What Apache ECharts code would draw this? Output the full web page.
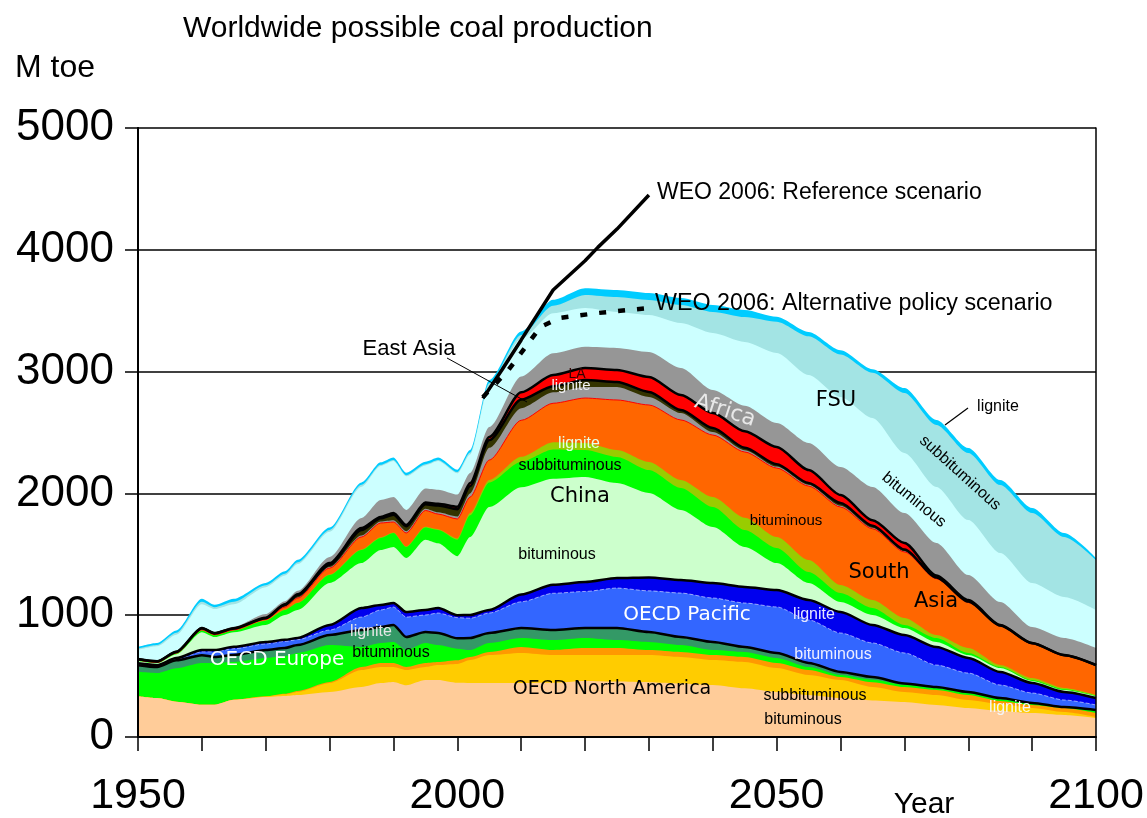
<!DOCTYPE html>
<html>
<head>
<meta charset="utf-8">
<script src="https://cdn.jsdelivr.net/npm/echarts@6/dist/echarts.min.js"></script>
<style>
html,body{margin:0;padding:0;background:#fff;}
#c{width:1147px;height:818px;}
</style>
</head>
<body>
<div id="c"></div>
<script>
// ---- data (cumulative production, M toe) ----
const years = [1950,1953,1956,1960,1962,1965,1970,1973,1975,1980,1985,1988,1990,1992,1995,1997,2000,2002,2005,2010,2015,2020,2025,2030,2035,2040,2045,2050,2055,2060,2065,2070,2075,2080,2085,2090,2095,2100];

const cumNA_bit  = [335,320,290,265,265,305,328,337,345,370,411,443,452,425,468,468,445,443,443,443,445,460,455,450,440,427,400,370,345,320,300,287,263,238,214,197,181,156];
const cumNA_sub  = [335,320,290,265,265,306,332,350,370,443,550,575,575,550,575,591,600,632,673,690,673,673,673,673,657,632,616,566,509,468,411,370,345,304,271,238,205,164];
const cumNA_lig  = [335,320,290,265,265,306,334,355,378,452,575,608,608,575,608,616,630,657,698,739,714,730,731,714,698,673,657,608,550,493,450,410,386,345,296,263,238,197];
const cumEU_bit  = [535,525,565,608,608,616,649,665,690,755,739,772,780,714,772,755,725,714,772,813,796,813,796,780,755,714,698,649,575,509,470,428,400,360,310,272,242,215];
const cumEU_lig  = [590,575,630,672,657,673,714,731,755,837,878,903,920,821,862,854,810,813,854,895,878,895,895,862,821,780,739,690,608,534,493,440,411,370,320,280,246,222];
const cumPAC_bit = [600,585,640,700,700,725,765,785,800,878,985,1043,1067,985,1002,1018,980,975,1018,1110,1180,1195,1223,1200,1182,1141,1100,1068,961,854,772,690,591,525,427,361,304,263];
const cumPAC_lig = [605,590,648,715,714,740,780,798,813,920,1059,1084,1100,1026,1043,1059,1000,1002,1043,1170,1250,1272,1305,1310,1289,1264,1232,1207,1125,1026,920,837,739,649,534,443,370,320];
const cumCN_bit  = [625,605,680,860,820,860,920,1002,1043,1264,1428,1535,1560,1470,1620,1590,1485,1642,1888,2050,2120,2135,2085,2003,1864,1724,1560,1428,1264,1108,1002,895,780,673,566,460,385,333];
const cumCN_sub  = [628,608,685,875,835,875,955,1043,1100,1330,1535,1634,1675,1560,1720,1700,1620,1820,2090,2260,2360,2356,2299,2192,2044,1888,1700,1552,1355,1182,1059,920,813,690,575,468,392,338];
const cumCN_lig  = [628,608,685,875,835,875,958,1046,1103,1335,1540,1640,1680,1565,1726,1706,1630,1839,2110,2300,2420,2414,2356,2258,2110,1970,1800,1642,1453,1248,1125,977,837,731,591,484,402,345];
const cumSA_bit  = [632,612,690,882,840,880,965,1067,1141,1387,1642,1757,1765,1675,1860,1830,1790,1970,2274,2600,2740,2783,2767,2726,2603,2479,2340,2208,2060,1888,1710,1519,1300,1105,910,765,668,586];
const cumSA_lig  = [632,612,690,882,840,880,965,1070,1145,1395,1655,1770,1780,1690,1875,1845,1810,2000,2374,2700,2830,2874,2874,2792,2660,2504,2355,2220,2070,1898,1718,1525,1305,1108,912,767,670,588];
const cumEA      = [638,620,698,892,850,890,975,1085,1165,1415,1700,1795,1825,1730,1910,1900,1870,2060,2438,2770,2880,2931,2915,2833,2685,2537,2375,2240,2085,1921,1735,1540,1310,1112,915,770,672,590];
const cumLA      = [640,622,700,895,853,893,980,1090,1172,1428,1715,1806,1839,1741,1925,1915,1890,2085,2463,2830,2972,3030,3013,2956,2808,2660,2510,2381,2192,1987,1780,1593,1325,1124,920,772,673,591];
const cumAF      = [648,628,710,905,862,905,1010,1115,1200,1478,1798,1946,1970,1864,2040,2030,1990,2167,2545,2960,3150,3203,3194,3161,3030,2849,2720,2578,2414,2217,2053,1839,1593,1330,1108,903,813,731];
const cumFSU_bit = [715,745,840,1090,1050,1090,1230,1325,1420,1685,2055,2225,2265,2140,2230,2265,2165,2320,2880,3270,3480,3522,3490,3465,3399,3317,3243,3153,2972,2791,2619,2332,2053,1781,1510,1264,1150,1043];
const cumFSU_sub = [725,755,855,1110,1065,1110,1245,1340,1435,1700,2070,2235,2275,2150,2240,2275,2175,2335,2905,3300,3540,3629,3612,3588,3547,3490,3448,3410,3290,3140,2990,2824,2562,2332,2069,1839,1642,1453];
const cumFSU_lig = [740,772,875,1135,1085,1135,1265,1360,1455,1720,2090,2255,2295,2170,2260,2295,2195,2356,2931,3330,3590,3685,3670,3645,3604,3547,3506,3450,3325,3175,3020,2865,2603,2373,2110,1880,1675,1470];

const weoRefYears = [2004,2007,2010,2015,2020,2022,2025,2030];
const weoRefVals  = [2780,3015,3260,3670,3910,4020,4170,4450];
const weoAltYears = [2004,2008,2013,2016,2022,2030];
const weoAltVals  = [2790,3013,3366,3440,3481,3522];

const yTicks = [0,1000,2000,3000,4000,5000];
const xLabelYears = [1950,2000,2050,2100];

// ---- build ----
function pairs(xs, vs){ return xs.map((x,i)=>[x, vs[i]]); }

// layers from top to bottom (each filled down to zero, upper painted first)
const layers = [
  [cumFSU_lig,'#00CCFF'],
  [cumFSU_sub,'#A3E4E4'],
  [cumFSU_bit,'#CCFFFF'],
  [cumAF,'#969696'],
  [cumLA,'#FF0000'],
  [cumEA,'#333300'],
  [cumSA_lig,'#999999'],
  [cumSA_bit,'#FF6600'],
  [cumCN_lig,'#99CC00'],
  [cumCN_sub,'#00FF00'],
  [cumCN_bit,'#CCFFCC'],
  [cumPAC_lig,'#0000EE'],
  [cumPAC_bit,'#3366FF'],
  [cumEU_lig,'#339966'],
  [cumEU_bit,'#00FF00'],
  [cumNA_lig,'#FF9900'],
  [cumNA_sub,'#FFCC00'],
  [cumNA_bit,'#FFCC99']
];
const SM = 0.25;
const series = [];
layers.forEach(([arr,col])=>{
  series.push({type:'line', data:pairs(years,arr), symbol:'none', smooth:SM, smoothMonotone:'x',
    lineStyle:{width:0, opacity:0}, areaStyle:{color:col, opacity:1, origin:'start'},
    silent:true, emphasis:{disabled:true}, z:2});
});
// boundary lines
const edges = [
  [cumSA_bit,'#FF0000',1,'solid'],
  [cumPAC_bit,'rgba(255,255,255,0.55)',1,'dashed'],
  [cumEU_lig,'#000',2.5,'solid'],
  [cumPAC_lig,'#000',2.5,'solid'],
  [cumEA,'#000',2.5,'solid'],
  [cumLA,'#000',2.5,'solid']
];
edges.forEach(([arr,col,w,t])=>{
  series.push({type:'line', data:pairs(years,arr), symbol:'none', smooth:SM, smoothMonotone:'x',
    lineStyle:{color:col, width:w, type:t}, silent:true, emphasis:{disabled:true}, z:3});
});
series.push({type:'line', data:pairs(weoRefYears,weoRefVals), symbol:'none',
  lineStyle:{color:'#000', width:3.5}, silent:true, z:4});
series.push({type:'line', data:pairs(weoAltYears,weoAltVals), symbol:'none',
  lineStyle:{color:'#000', width:4.5, type:[7,12], cap:'butt'}, silent:true, z:4});

const FONT = '"Liberation Sans", Arial, sans-serif';
const RFONT = '"DejaVu Sans", Tahoma, sans-serif';
function txt(text,x,y,size,fam,fill,align,rot){
  return {type:'text', x:x, y:y, rotation:(rot||0)*Math.PI/180, z:100, silent:true,
    style:{text:text, fill:fill||'#000', font:size+'px '+fam, align:align||'center', verticalAlign:'middle'}};
}
const graphics = [
  txt('Worldwide possible coal production',183,29,30,FONT,'#000','left'),
  txt('M toe',15,68,32,FONT,'#000','left'),
  txt('Year',924,805,30,FONT,'#000','center'),
  txt('WEO 2006: Reference scenario',657,193,23,FONT,'#000','left'),
  txt('WEO 2006: Alternative policy scenario',655,304,23.3,FONT,'#000','left'),
  txt('East Asia',409,349,22,FONT,'#000','center'),
  {type:'line', z:100, silent:true, shape:{x1:447,y1:358,x2:527,y2:402}, style:{stroke:'#000', lineWidth:1}},
  {type:'line', z:100, silent:true, shape:{x1:945,y1:425,x2:968,y2:408}, style:{stroke:'#000', lineWidth:1.2}},
  txt('LA',577,374,14,FONT,'#330000','center'),
  txt('lignite',571,386,15,FONT,'#F0F0F0','center'),
  txt('Africa',725,411,22,RFONT,'#E8E8E8','center',-18),
  txt('FSU',836,401,21,RFONT,'#000','center'),
  txt('lignite',998,407,16,FONT,'#000','center'),
  txt('subbituminous',960,473,16,FONT,'#000','center',-42),
  txt('bituminous',914,500,16,FONT,'#000','center',-39),
  txt('bituminous',786,521,15,FONT,'#000','center'),
  txt('South',879,573,21,RFONT,'#000','center'),
  txt('Asia',936,602,21,RFONT,'#000','center'),
  txt('lignite',814,615,16,FONT,'#E6E6FF','center'),
  txt('bituminous',833,655,16,FONT,'#EEEEFF','center'),
  txt('subbituminous',815,696,16,FONT,'#000','center'),
  txt('bituminous',803,720,16,FONT,'#000','center'),
  txt('lignite',1010,708,16,FONT,'#F5F5F5','center'),
  txt('OECD North America',612,689,19,RFONT,'#000','center'),
  txt('OECD Pacific',687,615,20,RFONT,'#FFFFFF','center'),
  txt('OECD Europe',277,660,20,RFONT,'#FFFFFF','center'),
  txt('lignite',371,632,16,FONT,'#E6E6E6','center'),
  txt('bituminous',391,653,16,FONT,'#000','center'),
  txt('China',580,497,21,RFONT,'#000','center'),
  txt('subbituminous',570,466,16,FONT,'#000','center'),
  txt('lignite',579,444,16,FONT,'#E6FFE6','center'),
  txt('bituminous',557,555,16,FONT,'#000','center')
];

const chart = echarts.init(document.getElementById('c'), null, {renderer:'canvas'});
chart.setOption({
  animation:false,
  backgroundColor:'#fff',
  grid:{left:138, right:51, top:128, bottom:81, containLabel:false},
  xAxis:[{type:'value', min:1950, max:2100, interval:10, z:10,
    axisLine:{show:true, lineStyle:{color:'#000', width:2}},
    axisTick:{show:true, length:14, lineStyle:{color:'#000', width:1.5}},
    axisLabel:{show:true, margin:38, fontSize:43, color:'#000', fontFamily:FONT,
      formatter:(v)=> xLabelYears.indexOf(v)>=0 ? String(v) : ''},
    splitLine:{show:false}}],
  yAxis:[
    {type:'value', min:yTicks[0], max:yTicks[yTicks.length-1], interval:1000,
      axisLine:{show:true, lineStyle:{color:'#000', width:2}},
      axisTick:{show:true, length:13, lineStyle:{color:'#000', width:1.5}},
      axisLabel:{show:true, margin:24, fontSize:44, color:'#000', fontFamily:FONT,
        formatter:(v)=> String(v)},
      splitLine:{show:true, lineStyle:{color:'#000', width:1.5}}},
    {type:'value', position:'right', min:0, max:5000, interval:1000, z:10,
      axisLine:{show:true, onZero:false, lineStyle:{color:'#000', width:1.5}},
      axisTick:{show:false}, axisLabel:{show:false}, splitLine:{show:false}},
    {type:'value', position:'left', min:0, max:5000, interval:1000, z:10,
      axisLine:{show:true, onZero:false, lineStyle:{color:'#000', width:2}},
      axisTick:{show:false}, axisLabel:{show:false}, splitLine:{show:false}}
  ],
  series:series,
  graphic:graphics
});
</script>
</body>
</html>
